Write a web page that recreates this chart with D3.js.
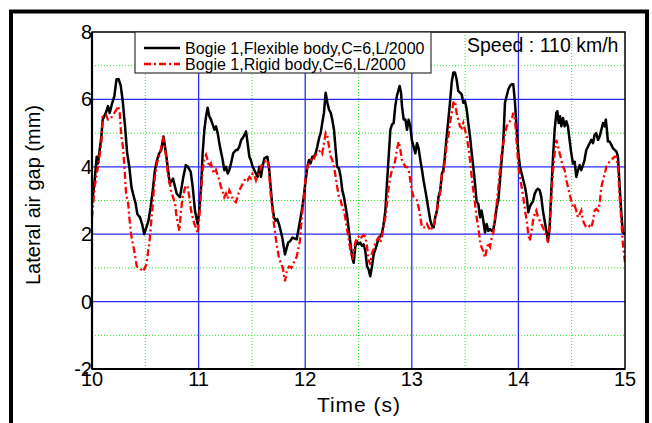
<!DOCTYPE html>
<html>
<head>
<meta charset="utf-8">
<script src="https://cdn.jsdelivr.net/npm/d3@7/dist/d3.min.js"></script>
<style>
body { margin: 0; background: #fff; }
text { font-family: Arial, "Liberation Sans", sans-serif; fill: #000; }
</style>
</head>
<body>
<div id="chart"></div>
<script>
var svgWidth = 652;
var svgHeight = 423;

// data (time in s, lateral air gap in mm)
var flexTime = [10.0,10.025,10.044,10.056,10.088,10.10,10.13,10.15,10.166,10.19,10.21,10.23,10.25,10.27,10.29,10.31,10.33,10.35,10.37,10.385,10.41,10.425,10.45,10.47,10.49,10.51,10.53,10.55,10.57,10.59,10.61,10.63,10.65,10.67,10.69,10.71,10.73,10.76,10.795,10.825,10.857,10.88,10.90,10.926,10.945,10.966,10.991,11.007,11.023,11.038,11.054,11.07,11.085,11.10,11.116,11.138,11.148,11.163,11.179,11.20,11.226,11.241,11.257,11.273,11.288,11.304,11.325,11.35,11.366,11.382,11.40,11.413,11.43,11.445,11.46,11.476,11.49,11.507,11.523,11.538,11.554,11.57,11.585,11.60,11.617,11.645,11.66,11.676,11.69,11.707,11.723,11.738,11.754,11.77,11.785,11.81,11.84,11.86,11.88,11.92,11.935,11.957,11.973,11.99,12.004,12.02,12.036,12.05,12.067,12.083,12.098,12.114,12.13,12.145,12.16,12.176,12.192,12.208,12.223,12.24,12.254,12.27,12.286,12.30,12.317,12.333,12.348,12.364,12.38,12.395,12.41,12.426,12.442,12.455,12.47,12.486,12.50,12.517,12.533,12.548,12.564,12.58,12.595,12.61,12.627,12.642,12.658,12.673,12.689,12.705,12.72,12.736,12.752,12.767,12.783,12.799,12.814,12.83,12.845,12.86,12.877,12.886,12.899,12.908,12.924,12.94,12.955,12.97,12.986,13.0,13.017,13.033,13.049,13.064,13.08,13.096,13.11,13.127,13.143,13.158,13.174,13.19,13.205,13.22,13.236,13.25,13.267,13.283,13.296,13.31,13.327,13.343,13.358,13.374,13.39,13.405,13.42,13.436,13.452,13.468,13.483,13.499,13.515,13.53,13.546,13.562,13.577,13.593,13.608,13.624,13.64,13.655,13.671,13.687,13.702,13.718,13.734,13.75,13.765,13.78,13.796,13.812,13.827,13.843,13.859,13.874,13.89,13.906,13.921,13.937,13.952,13.968,13.984,14.0,14.015,14.03,14.046,14.062,14.078,14.093,14.106,14.12,14.137,14.153,14.168,14.184,14.2,14.215,14.23,14.246,14.262,14.278,14.293,14.309,14.325,14.34,14.356,14.365,14.378,14.39,14.403,14.418,14.434,14.45,14.465,14.48,14.496,14.512,14.528,14.543,14.559,14.575,14.59,14.606,14.62,14.637,14.653,14.668,14.684,14.7,14.715,14.73,14.747,14.762,14.778,14.794,14.81,14.82,14.83,14.84,14.856,14.872,14.887,14.903,14.92,14.934,14.95,14.966,14.98,15.0];
var flexGap = [2.9,3.6,4.3,4.1,4.9,5.4,5.6,5.8,5.6,5.9,6.1,6.6,6.6,6.4,5.9,5.2,4.4,4.0,3.4,3.2,2.9,2.6,2.5,2.3,2.0,2.2,2.4,2.8,3.3,3.9,4.2,4.4,4.5,4.9,4.5,4.0,3.5,3.65,3.2,3.1,3.7,4.05,4.0,3.85,3.4,2.7,2.3,2.7,3.4,4.4,5.1,5.5,5.75,5.5,5.4,5.2,5.1,5.2,5.0,4.6,4.2,3.9,4.0,3.8,3.9,4.1,4.4,4.5,4.5,4.6,4.8,4.85,4.95,5.05,4.7,4.3,4.2,4.0,3.9,3.8,3.7,4.0,3.7,4.0,4.25,4.3,4.0,3.4,2.9,2.5,2.4,2.45,2.3,2.1,1.9,1.4,1.75,1.8,1.9,1.85,2.1,2.5,2.8,3.2,3.6,4.0,4.2,4.1,4.3,4.3,4.4,4.6,4.85,5.0,5.3,5.6,6.2,5.9,5.7,5.6,5.4,5.1,4.5,4.0,3.95,3.7,3.3,3.1,2.8,2.5,2.1,1.7,1.3,1.15,1.63,1.8,1.7,1.75,1.65,1.7,1.5,1.05,0.95,0.75,1.05,1.4,1.55,1.7,1.9,1.93,2.03,2.3,2.7,3.5,4.3,5.1,5.25,5.3,5.8,6.1,6.3,6.4,6.2,5.8,5.4,5.4,5.1,5.4,5.2,4.8,4.6,4.4,4.7,4.55,4.2,3.9,3.6,3.3,3.0,2.7,2.4,2.25,2.2,2.5,2.7,3.1,3.3,3.8,3.9,4.3,4.9,5.4,5.9,6.5,6.8,6.8,6.6,6.25,6.2,6.15,5.9,5.95,5.7,5.3,4.9,4.4,4.0,3.5,2.97,2.9,2.5,2.7,2.4,2.05,2.3,2.1,2.15,2.1,2.15,2.4,2.8,3.0,3.6,4.2,4.8,5.9,6.1,6.3,6.4,6.45,6.45,5.9,5.1,4.4,4.0,3.8,3.6,3.4,3.1,2.65,2.8,2.9,2.97,3.2,3.3,3.35,3.3,3.1,2.7,2.4,2.1,1.8,2.2,3.3,4.3,5.1,5.6,5.65,5.3,5.5,5.2,5.45,5.2,5.35,5.2,4.8,4.4,4.1,4.15,3.7,3.9,4.05,3.9,4.05,4.2,4.5,4.6,4.7,4.8,4.7,4.95,5.0,4.8,4.9,5.1,5.3,5.2,5.4,5.1,4.75,4.75,4.65,4.55,4.5,4.45,4.3,3.4,2.6,2.05,2.0];

var rigidTime = [10.0,10.025,10.056,10.088,10.10,10.116,10.13,10.15,10.166,10.18,10.198,10.21,10.23,10.245,10.26,10.275,10.29,10.306,10.32,10.34,10.35,10.37,10.40,10.42,10.45,10.48,10.51,10.54,10.57,10.59,10.61,10.62,10.64,10.65,10.666,10.68,10.70,10.71,10.73,10.74,10.76,10.78,10.79,10.806,10.82,10.835,10.85,10.866,10.88,10.897,10.913,10.929,10.944,10.96,10.976,10.991,11.007,11.023,11.038,11.054,11.07,11.085,11.10,11.116,11.132,11.148,11.163,11.179,11.194,11.21,11.226,11.241,11.257,11.273,11.288,11.304,11.32,11.335,11.35,11.366,11.382,11.398,11.413,11.43,11.445,11.46,11.476,11.49,11.507,11.523,11.538,11.554,11.57,11.585,11.60,11.617,11.645,11.66,11.676,11.69,11.707,11.723,11.738,11.754,11.77,11.79,11.81,11.83,11.85,11.87,11.89,11.92,11.95,11.965,11.99,12.004,12.02,12.036,12.05,12.067,12.083,12.098,12.114,12.13,12.145,12.16,12.176,12.192,12.208,12.223,12.24,12.254,12.27,12.286,12.30,12.317,12.333,12.348,12.364,12.38,12.395,12.41,12.426,12.442,12.455,12.47,12.486,12.50,12.517,12.533,12.548,12.564,12.58,12.595,12.61,12.627,12.642,12.658,12.673,12.689,12.705,12.72,12.736,12.752,12.767,12.783,12.799,12.814,12.83,12.845,12.86,12.877,12.893,12.908,12.924,12.94,12.955,12.97,12.986,13.0,13.017,13.033,13.049,13.064,13.08,13.096,13.11,13.127,13.143,13.158,13.174,13.19,13.205,13.22,13.236,13.25,13.265,13.283,13.296,13.31,13.327,13.343,13.358,13.374,13.39,13.405,13.42,13.436,13.452,13.468,13.483,13.499,13.515,13.53,13.546,13.562,13.577,13.593,13.608,13.624,13.64,13.655,13.671,13.687,13.702,13.718,13.734,13.75,13.765,13.78,13.796,13.812,13.827,13.843,13.859,13.874,13.89,13.906,13.921,13.937,13.952,13.968,13.984,14.0,14.015,14.03,14.046,14.062,14.078,14.093,14.106,14.12,14.137,14.153,14.168,14.184,14.2,14.215,14.23,14.246,14.262,14.278,14.293,14.309,14.325,14.34,14.356,14.372,14.387,14.403,14.418,14.434,14.45,14.465,14.48,14.496,14.512,14.528,14.543,14.559,14.575,14.59,14.606,14.62,14.637,14.653,14.668,14.684,14.7,14.715,14.73,14.747,14.762,14.778,14.794,14.81,14.825,14.84,14.856,14.872,14.887,14.903,14.92,14.934,14.95,14.966,14.98,15.0];
var rigidGap = [2.5,3.4,4.0,4.7,5.5,5.55,5.55,5.4,5.4,5.45,5.55,5.6,5.7,5.8,5.6,4.9,4.6,3.9,3.2,2.9,2.5,1.93,1.44,1.04,0.99,0.89,1.1,1.8,2.9,3.7,4.1,4.25,4.4,4.6,4.9,4.6,4.2,3.8,3.5,3.3,3.1,2.9,2.6,2.3,2.1,2.7,3.1,3.3,3.45,3.4,3.1,2.7,2.5,2.3,2.2,2.03,2.5,3.3,3.9,4.2,4.35,4.2,4.0,4.1,3.9,3.8,3.9,3.75,3.6,3.4,3.3,3.1,3.2,3.05,3.3,3.2,3.05,3.0,2.95,3.1,3.3,3.4,3.5,3.6,3.65,3.6,3.7,3.65,3.8,3.75,3.6,3.75,3.8,4.0,4.1,4.15,4.2,3.9,3.2,2.8,2.3,1.9,1.6,1.3,1.15,1.0,0.6,0.95,1.04,1.0,1.14,1.33,1.8,2.4,3.2,3.7,4.0,4.1,4.15,4.3,4.25,4.35,4.4,4.45,4.5,4.4,4.7,5.0,4.9,4.6,4.3,4.2,4.0,3.7,3.4,3.1,3.0,2.8,2.7,2.4,2.1,1.8,1.5,1.25,1.45,1.75,1.9,1.93,1.85,1.93,1.98,1.93,1.63,1.24,1.1,1.45,1.55,1.75,1.83,1.9,1.75,1.93,2.23,2.5,2.9,3.4,3.7,3.9,4.0,4.2,4.5,4.75,4.5,4.2,4.1,4.0,4.0,3.9,3.6,3.3,3.1,3.05,3.0,2.8,2.5,2.2,2.2,2.2,2.3,2.2,2.1,2.2,2.23,2.5,2.7,3.0,3.2,3.8,3.8,4.2,4.65,4.9,5.3,5.6,5.9,5.95,5.6,5.4,5.2,5.15,5.3,5.1,4.9,4.6,4.2,3.7,3.3,2.9,2.5,2.2,1.8,1.6,1.5,1.3,1.55,1.75,1.63,1.9,2.03,2.5,2.9,3.4,3.9,4.4,4.7,5.0,5.2,5.3,5.35,5.4,5.6,5.4,4.7,4.0,3.7,3.4,3.1,2.7,2.4,2.0,1.8,2.03,2.4,2.6,2.7,2.5,2.4,2.3,2.2,2.1,1.93,1.75,2.2,3.1,3.9,4.4,4.8,4.6,4.4,4.2,4.0,3.9,3.6,3.4,3.2,3.0,2.8,2.85,2.7,2.5,2.6,2.7,2.4,2.3,2.2,2.2,2.25,2.2,2.4,2.7,2.75,2.7,2.9,3.4,3.6,3.8,4.0,4.1,4.15,4.2,4.25,4.3,4.3,4.0,3.1,2.4,1.73,1.15];

var xTicks = [10, 11, 12, 13, 14, 15];
var yTicks = [-2, 0, 2, 4, 6, 8];
var xMajorGrid = [11, 12, 13, 14];
var xMinorGrid = [10.5, 11.5, 12.5, 13.5, 14.5];
var yMajorGrid = [0, 2, 4, 6];
var yMinorGrid = [-1, 1, 3, 5, 7];
var legendLabels = ["Bogie 1,Flexible body,C=6,L/2000", "Bogie 1,Rigid body,C=6,L/2000"];

var plot = { left: 92, right: 625, top: 32, bottom: 369 };

var svg = d3.select("#chart")
    .append("svg")
    .attr("width", svgWidth)
    .attr("height", svgHeight);

var x = d3.scaleLinear().domain([10, 15]).range([plot.left, plot.right]);
var y = d3.scaleLinear().domain([-2, 8]).range([plot.bottom, plot.top]);

// outer frame
svg.append("rect")
    .attr("x", 11).attr("y", 11.5)
    .attr("width", 636).attr("height", 440)
    .attr("fill", "none")
    .attr("stroke", "#000")
    .attr("stroke-width", 4);

svg.append("defs").append("clipPath").attr("id", "clip")
    .append("rect")
    .attr("x", plot.left).attr("y", plot.top)
    .attr("width", plot.right - plot.left).attr("height", plot.bottom - plot.top);

// grid
var grid = svg.append("g");
grid.selectAll(".vminor").data(xMinorGrid).enter().append("line")
    .attr("x1", d => x(d)).attr("x2", d => x(d))
    .attr("y1", plot.top).attr("y2", plot.bottom)
    .attr("stroke", "#22ee22").attr("stroke-width", 1).attr("stroke-dasharray", "1,2");
grid.selectAll(".hminor").data(yMinorGrid).enter().append("line")
    .attr("x1", plot.left).attr("x2", plot.right)
    .attr("y1", d => y(d)).attr("y2", d => y(d))
    .attr("stroke", "#22ee22").attr("stroke-width", 1).attr("stroke-dasharray", "1,2");
grid.selectAll(".vmajor").data(xMajorGrid).enter().append("line")
    .attr("x1", d => x(d)).attr("x2", d => x(d))
    .attr("y1", plot.top).attr("y2", plot.bottom)
    .attr("stroke", "#2a2aff").attr("stroke-width", 1.3);
grid.selectAll(".hmajor").data(yMajorGrid).enter().append("line")
    .attr("x1", plot.left).attr("x2", plot.right)
    .attr("y1", d => y(d)).attr("y2", d => y(d))
    .attr("stroke", "#2a2aff").attr("stroke-width", 1.3);

// series
var lineGen = d3.line().x(d => x(d[0])).y(d => y(d[1]));
var flexData = flexTime.map((t, i) => [t, flexGap[i]]);
var rigidData = rigidTime.map((t, i) => [t, rigidGap[i]]);

var lines = svg.append("g").attr("clip-path", "url(#clip)");
lines.append("path")
    .datum(flexData)
    .attr("d", lineGen)
    .attr("fill", "none")
    .attr("stroke", "#000")
    .attr("stroke-width", 2.5)
    .attr("stroke-linejoin", "round");
lines.append("path")
    .datum(rigidData)
    .attr("d", lineGen)
    .attr("fill", "none")
    .attr("stroke", "#ff0000")
    .attr("stroke-width", 2.3)
    .attr("stroke-dasharray", "7,3,2,3");

// plot box
svg.append("rect")
    .attr("x", plot.left).attr("y", plot.top)
    .attr("width", plot.right - plot.left).attr("height", plot.bottom - plot.top)
    .attr("fill", "none").attr("stroke", "#000").attr("stroke-width", 1.5);
svg.append("line")
    .attr("x1", plot.left).attr("x2", plot.left)
    .attr("y1", plot.top).attr("y2", plot.bottom)
    .attr("stroke", "#000").attr("stroke-width", 2.2);
svg.append("line")
    .attr("x1", plot.left).attr("x2", plot.right)
    .attr("y1", plot.bottom).attr("y2", plot.bottom)
    .attr("stroke", "#000").attr("stroke-width", 2.2);

// tick labels
svg.selectAll(".xlab").data(xTicks).enter().append("text")
    .attr("x", d => x(d)).attr("y", 386)
    .attr("text-anchor", "middle")
    .attr("font-size", "20px")
    .text(d => d);
svg.selectAll(".ylab").data(yTicks).enter().append("text")
    .attr("x", 92).attr("y", d => y(d) + 7)
    .attr("text-anchor", "end")
    .attr("font-size", "20px")
    .text(d => d);

// axis titles
svg.append("text")
    .attr("x", 359).attr("y", 412)
    .attr("text-anchor", "middle")
    .attr("font-size", "21px")
    .attr("letter-spacing", "1px")
    .text("Time (s)");
svg.append("text")
    .attr("transform", "translate(40,195) rotate(-90)")
    .attr("text-anchor", "middle")
    .attr("font-size", "20px")
    .text("Lateral air gap (mm)");

// legend
var legend = svg.append("g");
legend.append("rect")
    .attr("x", 135).attr("y", 32)
    .attr("width", 296).attr("height", 41)
    .attr("fill", "#fff").attr("stroke", "#333").attr("stroke-width", 1.2);
var legendStyles = [{ color: "#000", dash: null }, { color: "#ff0000", dash: "7,3,2,3" }];
legendLabels.forEach(function(label, i) {
    var ly = 48 + i * 16;
    legend.append("line")
        .attr("x1", 144).attr("x2", 180)
        .attr("y1", ly).attr("y2", ly)
        .attr("stroke", legendStyles[i].color)
        .attr("stroke-width", 2.3)
        .attr("stroke-dasharray", legendStyles[i].dash);
    legend.append("text")
        .attr("x", 185).attr("y", ly + 5.5)
        .attr("font-size", "16px")
        .text(label);
});

svg.append("text")
    .attr("x", 467).attr("y", 52)
    .attr("font-size", "19.5px")
    .text("Speed : 110 km/h");
</script>
</body>
</html>
